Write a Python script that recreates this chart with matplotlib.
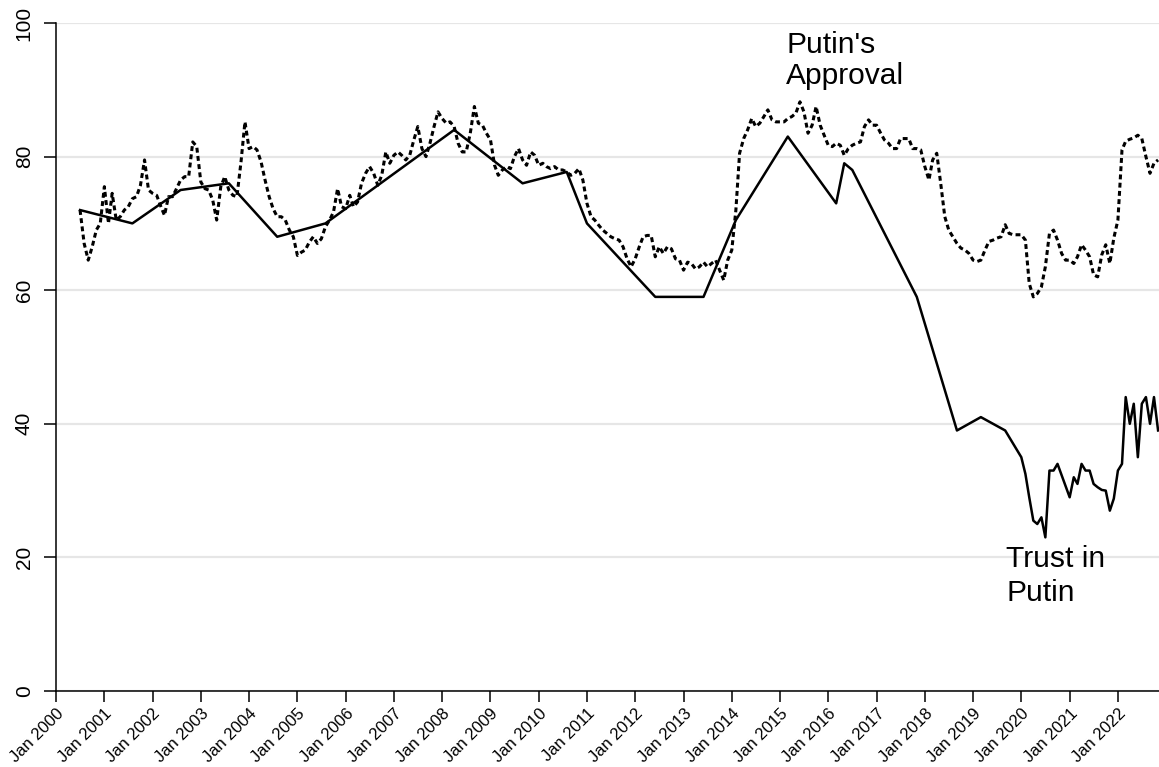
import matplotlib
matplotlib.use('Agg')
import matplotlib.pyplot as plt
import pandas as pd

plt.rcParams['font.family'] = ['Liberation Sans', 'DejaVu Sans']

# Putin's approval (monthly, from July 2000)
approval_start = '2000-07-01'
approval = [
    72, 67, 64.5, 66.5, 69, 70,                                          # 2000
    75.5, 70, 74.5, 70.5, 71, 72, 72.5, 73.7, 74, 75.7, 79.5, 75,        # 2001
    74.5, 74.2, 72.7, 71.2, 74, 74, 75.2, 76.5, 77, 77, 82.2, 81.5,      # 2002
    76.2, 75.2, 75, 73.5, 70.5, 75.5, 77, 75, 74.2, 74, 79.2, 85.2,      # 2003
    81.2, 81.5, 81, 79.2, 76.5, 74, 72.2, 71, 71, 70.5, 69, 68,          # 2004
    65.2, 65.7, 66, 67.2, 68, 67, 67.7, 69.5, 70.5, 71.7, 75.2, 72.5,    # 2005
    72.2, 74.2, 72.5, 73.2, 76, 77.5, 78.5, 77.5, 75.7, 77.2, 80.7, 79,  # 2006
    80.2, 80.7, 80.2, 79.5, 80.2, 82.5, 84.5, 81.2, 80, 82, 84.5, 86.7,  # 2007
    85.7, 85, 85.2, 84.5, 82, 80.7, 80.7, 83.5, 87.5, 85, 84.7, 83.5,    # 2008
    82.5, 78.7, 77.2, 78, 78.5, 78.2, 80, 81.2, 79.5, 78.7, 80.7, 80.2,  # 2009
    78.7, 79, 78.5, 78.2, 78.5, 78, 78, 77.7, 77.2, 77.5, 78.2, 76.5,    # 2010
    73, 71, 70.5, 69.7, 69, 68.5, 68, 67.7, 67.5, 66.5, 64.7, 63.5,      # 2011
    64.7, 66.5, 68, 68.2, 68.2, 65, 66.5, 65.5, 66.5, 66.2, 64.7, 64.5,  # 2012
    63, 64.2, 64, 63.2, 63.5, 64.2, 63.5, 64, 64.5, 63, 61.5, 64.5,      # 2013
    66, 72, 80.5, 82.7, 84, 85.7, 84.5, 85, 86, 87, 85.5, 85.2,          # 2014
    85.2, 85.2, 85.7, 86, 86.5, 88.2, 86.7, 83.5, 84.7, 87.5, 84.7, 83.2,  # 2015
    81.7, 81.5, 82, 81.7, 80.2, 81.2, 81.7, 82, 82.2, 84.5, 85.5, 84.7,  # 2016
    84.7, 83.5, 82.5, 82, 81.2, 81.2, 82.7, 82.7, 82.7, 81.2, 81.2, 81,  # 2017
    78.5, 76.5, 79.5, 80.5, 76, 71, 69, 68, 67, 66.3, 66, 65.5,          # 2018
    64.5, 64.3, 64.5, 66, 67.3, 67.5, 67.8, 68, 69.8, 68.5, 68.3, 68.3,  # 2019
    68.3, 67.5, 61, 59, 59.5, 60.5, 63.5, 68.5, 69, 67.5, 65.5, 64.5,    # 2020
    64.5, 64, 65, 66.8, 66, 65, 62.3, 62, 65.3, 66.8, 64, 67.8,          # 2021
    70.5, 81, 82.3, 82.6, 82.8, 83.2, 82.7, 80, 77.5, 79, 79.5,          # 2022
]

# Trust in Putin (irregular surveys, monthly from 2020)
trust_dates = [
    '2000-07', '2001-08', '2002-08', '2003-08', '2004-08', '2005-08',
    '2008-04', '2009-09', '2010-08', '2011-01', '2012-06', '2013-06',
    '2014-02', '2015-03', '2016-03', '2016-05', '2016-07', '2017-11',
    '2018-09', '2019-03', '2019-09',
    '2020-01', '2020-02', '2020-03', '2020-04', '2020-05', '2020-06',
    '2020-07', '2020-08', '2020-09', '2020-10',
    '2021-01', '2021-02', '2021-03', '2021-04', '2021-05', '2021-06',
    '2021-07', '2021-08', '2021-09', '2021-10', '2021-11', '2021-12',
    '2022-01', '2022-02', '2022-03', '2022-04', '2022-05', '2022-06',
    '2022-07', '2022-08', '2022-09', '2022-10', '2022-11',
]
trust = [
    72, 70, 75, 76, 68, 70,
    84, 76, 77.7, 70, 59, 59,
    70.5, 83, 73, 79, 78, 59,
    39, 41, 39,
    35, 32.5, 29, 25.5, 25, 26,
    23, 33, 33, 34,
    29, 32, 31, 34, 33, 33,
    31, 30.5, 30.1, 30, 27, 28.8,
    33, 34, 44, 40, 43, 35,
    43, 44, 40, 44, 39,
]

year_ticks = list(range(2000, 2023))
y_ticks = [0, 20, 40, 60, 80, 100]


def make_plot():
    fig = plt.figure(figsize=(11.59, 7.67), dpi=100)
    ax = fig.add_axes([56 / 1159, 1 - 691 / 767, 1 - 56 / 1159, (691 - 23) / 767])

    approval_dates = pd.date_range(approval_start, periods=len(approval), freq='MS')
    ax.plot(approval_dates, approval, color='black', lw=2.2, linestyle=(0, (1.6, 1.1)))
    ax.plot(pd.to_datetime(trust_dates), trust, color='black', lw=1.8)

    ax.set_ylim(0, 100)
    ax.set_xlim(pd.Timestamp('2000-01-01'), pd.Timestamp('2022-11-08'))

    ax.set_yticks(y_ticks)
    ax.set_yticklabels([str(v) for v in y_ticks], rotation=90, va='center', fontsize=15)
    ax.set_xticks([pd.Timestamp(f'{y}-01-01') for y in year_ticks])
    ax.set_xticklabels([f'Jan {y}' for y in year_ticks], rotation=45, ha='right',
                       rotation_mode='anchor', fontsize=12)
    ax.tick_params(axis='y', length=9, width=1.1, pad=7)
    ax.tick_params(axis='x', length=8, width=1.1, pad=3)

    ax.spines['top'].set_visible(False)
    ax.spines['right'].set_visible(False)
    ax.spines['left'].set_linewidth(1.1)
    ax.spines['bottom'].set_linewidth(1.1)
    ax.grid(axis='y', color='#e6e6e6', lw=1.6)
    ax.set_axisbelow(True)

    ax.text(pd.Timestamp('2015-02-17'), 98.8, "Putin's\nApproval", fontsize=21.6,
            va='top', ha='left', linespacing=1.15)
    ax.text(pd.Timestamp('2019-09-10'), 21.9, "Trust in\nPutin", fontsize=21.6,
            va='top', ha='left', linespacing=1.3)

    fig.savefig('out.png', dpi=100)


if __name__ == '__main__':
    make_plot()
